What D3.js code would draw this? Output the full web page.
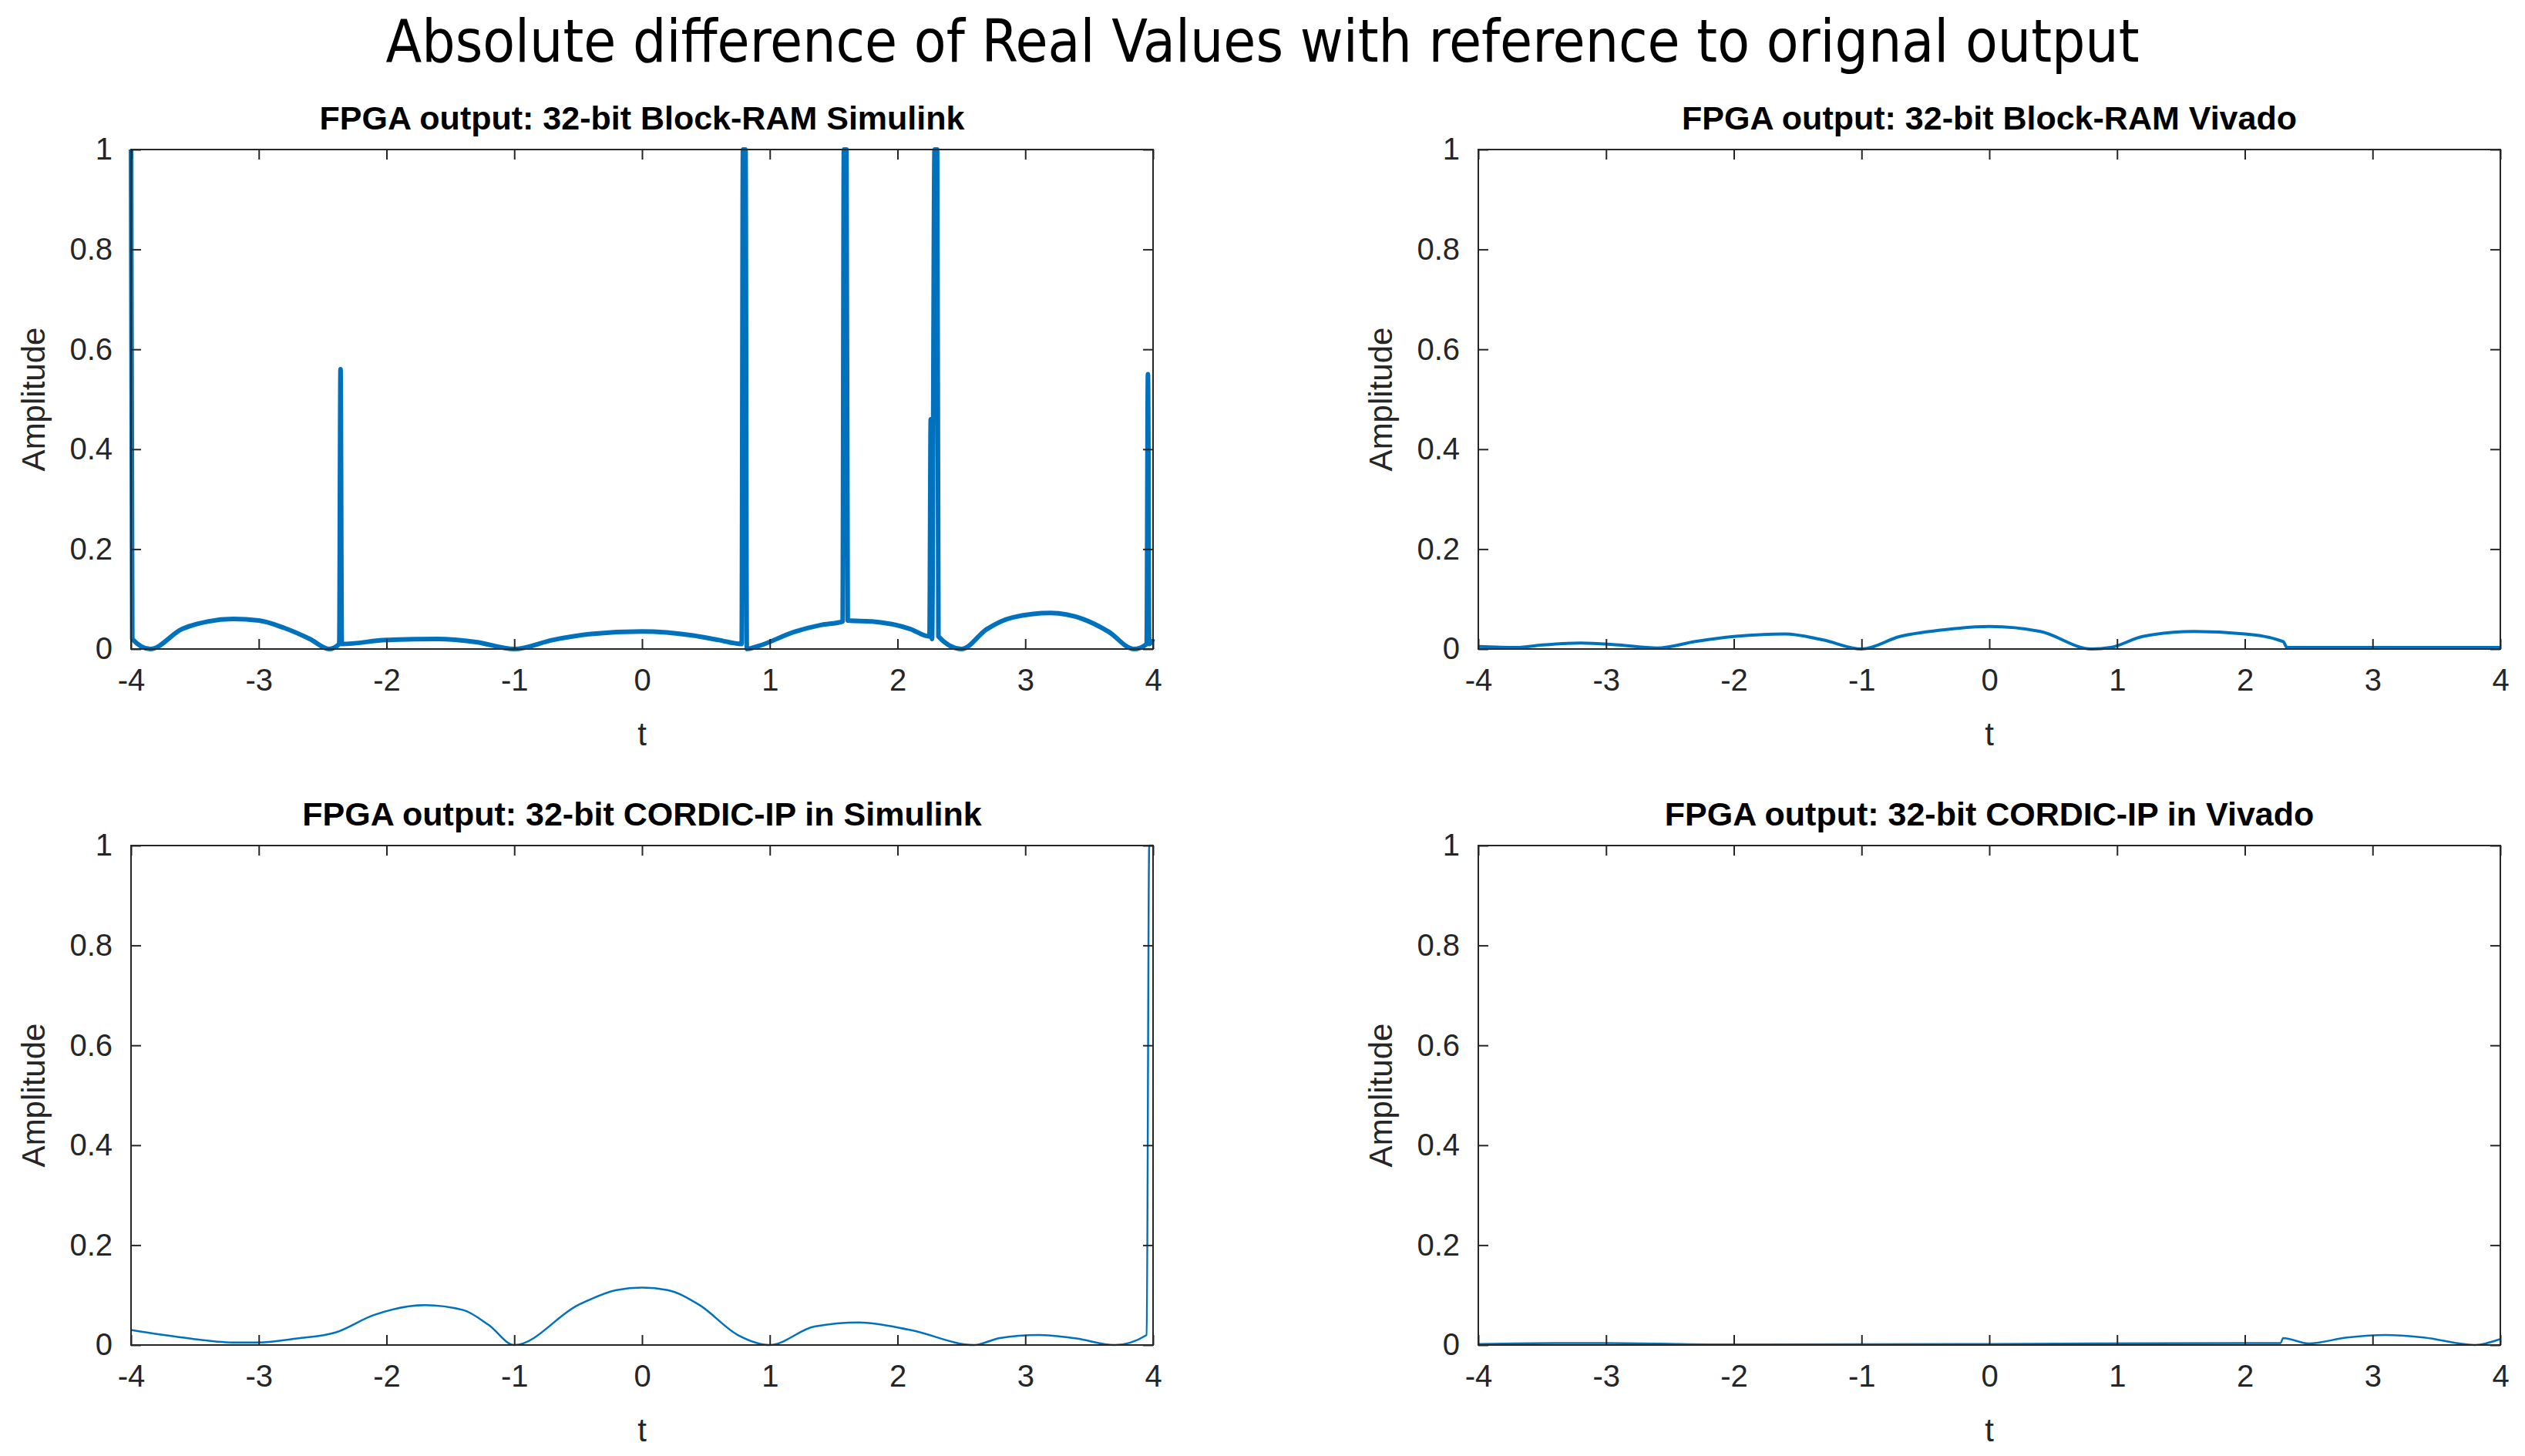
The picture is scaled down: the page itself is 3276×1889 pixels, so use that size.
<!DOCTYPE html>
<html><head><meta charset="utf-8">
<script src="https://cdn.jsdelivr.net/npm/d3@7"></script>
<style>body{margin:0;background:#fff}</style>
</head><body>
<svg id="chart" width="3276" height="1889"></svg>
<script>
// chart values
const xTicks = [-4, -3, -2, -1, 0, 1, 2, 3, 4];
const yTicks = [0, 0.2, 0.4, 0.6, 0.8, 1];

const bramSimulink = [[-4,1],[-3.99,0.02],[-3.85,0],[-3.6,0.04],[-3.4,0.055],[-3.2,0.06],[-3,0.057],[-2.8,0.042],[-2.6,0.02],[-2.45,0],[-2.37,0.01],[-2.36,0.56],[-2.35,0.01],
  [-2,0.018],[-1.6,0.02],[-1.3,0.014],[-1,0],[-0.7,0.018],[-0.4,0.03],[0,0.035],[0.4,0.027],[0.6,0.018],[0.78,0.01],[0.79,1],[0.81,1],[0.82,0],[0.9,0.005],
  [1.2,0.035],[1.4,0.048],[1.57,0.055],[1.58,1],[1.6,1],[1.61,0.057],[1.8,0.055],[2.1,0.04],[2.25,0.025],[2.26,0.46],[2.27,0.02],[2.29,1],[2.31,1],[2.32,0.025],
  [2.5,0],[2.7,0.04],[2.9,0.063],[3.2,0.072],[3.45,0.06],[3.65,0.035],[3.85,0],[3.95,0.01],[3.96,0.55],[3.97,0.01],[4,0.02]];
const bramVivado = [[-4,0.005],[-3.7,0.003],[-3.5,0.008],[-3.2,0.012],[-2.9,0.008],[-2.6,0.002],[-2.3,0.015],[-2,0.025],[-1.6,0.03],[-1.3,0.018],[-1,0],
  [-0.7,0.025],[-0.3,0.04],[0,0.045],[0.4,0.035],[0.8,0],[0.95,0.003],[1.2,0.025],[1.6,0.035],[2,0.03],[2.3,0.015],[2.33,0.003],[4,0.003]];
const cordicSimulink = [[-4,0.03],[-3.6,0.015],[-3.2,0.005],[-3,0.005],[-2.7,0.013],[-2.4,0.025],[-2.1,0.06],[-1.7,0.08],[-1.4,0.07],[-1.2,0.04],[-1,0],
  [-0.5,0.08],[-0.2,0.11],[0,0.115],[0.2,0.11],[0.45,0.08],[0.75,0.02],[1,0],[1.35,0.037],[1.7,0.045],[2.1,0.03],[2.6,0],[2.8,0.014],[3.1,0.02],[3.4,0.013],[3.7,0],
  [3.95,0.02],[3.97,1],[4,1]];
const cordicVivado = [[-4,0.002],[-3.4,0.004],[-3,0.004],[-2,0.001],[0,0.002],[2,0.004],[2.28,0.004],[2.3,0.014],[2.5,0.003],[2.8,0.015],
  [3.1,0.02],[3.4,0.015],[3.8,0],[4,0.012]];

const panels = [
  {title: 'FPGA output: 32-bit Block-RAM Simulink', data: bramSimulink, x: 170, y: 194, w: 6},
  {title: 'FPGA output: 32-bit Block-RAM Vivado', data: bramVivado, x: 1918, y: 194, w: 4},
  {title: 'FPGA output: 32-bit CORDIC-IP in Simulink', data: cordicSimulink, x: 170, y: 1097, w: 2.5},
  {title: 'FPGA output: 32-bit CORDIC-IP in Vivado', data: cordicVivado, x: 1918, y: 1097, w: 2.5}
];
const W = 1326, H = 648;

const svg = d3.select('#chart');
svg.append('text').attr('x', 1638).attr('y', 80).attr('text-anchor', 'middle')
  .style('font-family', 'DejaVu Sans Condensed, DejaVu Sans').style('font-size', '76px')
  .text('Absolute difference of Real Values with reference to orignal output');

panels.forEach(p => {
  const g = svg.append('g').attr('transform', `translate(${p.x},${p.y})`);
  const x = d3.scaleLinear().domain([-4, 4]).range([0, W]);
  const y = d3.scaleLinear().domain([0, 1]).range([H, 0]);

  g.append('path').datum(p.data)
    .attr('d', d3.line().x(d => x(d[0])).y(d => y(d[1])).curve(d3.curveMonotoneX))
    .attr('fill', 'none').attr('stroke', '#0072BD').attr('stroke-width', p.w).attr('stroke-linejoin', 'round');

  const font = 'Liberation Sans, Arial, sans-serif';
  const ax = (sel, gen) => sel.call(gen).call(s => s.select('.domain').remove())
    .call(s => s.selectAll('line').attr('stroke', '#262626').attr('stroke-width', 2))
    .call(s => s.selectAll('text').style('font-family', font).style('font-size', '40px').attr('fill', '#262626'));

  g.append('g').attr('transform', `translate(0,${H})`)
    .call(s => ax(s, d3.axisBottom(x).tickValues(xTicks).tickSize(-13).tickPadding(26).tickFormat(d => String(d))));
  g.append('g').call(s => ax(s, d3.axisTop(x).tickValues(xTicks).tickSize(-13).tickFormat('')));
  g.append('g')
    .call(s => ax(s, d3.axisLeft(y).tickValues(yTicks).tickSize(-13).tickPadding(24).tickFormat(d => d === 0 || d === 1 ? d : d3.format('.1f')(d))));
  g.append('g').attr('transform', `translate(${W},0)`)
    .call(s => ax(s, d3.axisRight(y).tickValues(yTicks).tickSize(-13).tickFormat('')));

  g.append('rect').attr('width', W).attr('height', H).attr('fill', 'none').attr('stroke', '#262626').attr('stroke-width', 2);

  g.append('text').attr('x', W / 2).attr('y', -26).attr('text-anchor', 'middle')
    .style('font-family', font).style('font-weight', 'bold').style('font-size', '43px').attr('fill', '#000').text(p.title);
  g.append('text').attr('x', W / 2).attr('y', H + 125).attr('text-anchor', 'middle')
    .style('font-family', font).style('font-size', '42px').attr('fill', '#262626').text('t');
  g.append('text').attr('transform', `translate(-112,${H / 2}) rotate(-90)`).attr('text-anchor', 'middle')
    .style('font-family', font).style('font-size', '42px').attr('fill', '#262626').text('Amplitude');
});
</script>
</body></html>
